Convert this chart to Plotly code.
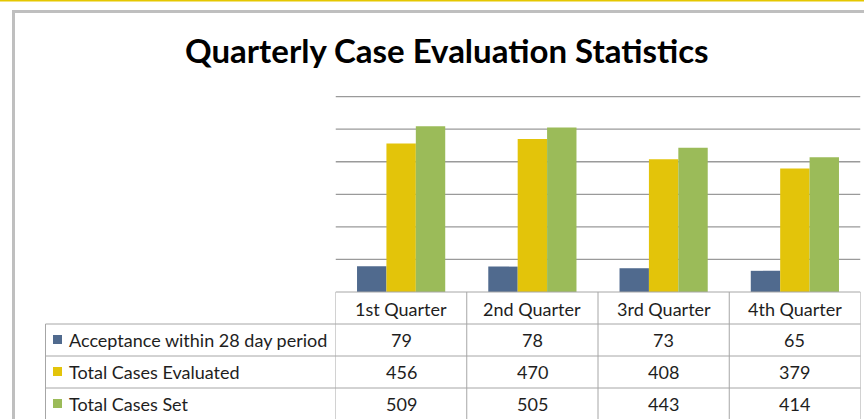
import plotly.graph_objects as go

quarters = ["1st Quarter", "2nd Quarter", "3rd Quarter", "4th Quarter"]
series_names = ["Acceptance within 28 day period", "Total Cases Evaluated", "Total Cases Set"]
acceptance = [79, 78, 73, 65]
evaluated = [456, 470, 408, 379]
cases_set = [509, 505, 443, 414]
colors = ["#506A8E", "#E3C40A", "#9BBB59"]
title_text = "Quarterly Case Evaluation Statistics"
grid_vals = [0, 100, 200, 300, 400, 500, 600]

W, H = 864, 419
FONT = "Lato"
TXT = "#1e1e1e"
LINE = "#a6a6a6"

def px(x):
    return x / W

def py(y):
    return 1 - y / H

series_values = [acceptance, evaluated, cases_set]

fig = go.Figure()
for name, vals, col in zip(series_names, series_values, colors):
    fig.add_trace(go.Bar(x=quarters, y=vals, name=name, marker=dict(color=col, line=dict(width=0)),
                         hoverinfo="x+y+name"))

shapes = []
annotations = []

# top yellow line and gray chart frame
shapes.append(dict(type="line", xref="paper", yref="paper", x0=0, x1=1, y0=py(0.7), y1=py(0.7),
                   line=dict(color="#E5C700", width=1.6)))
shapes.append(dict(type="line", xref="paper", yref="paper", x0=px(12), x1=1, y0=py(11.5), y1=py(11.5),
                   line=dict(color="#bfbfbf", width=3)))
shapes.append(dict(type="line", xref="paper", yref="paper", x0=px(13.5), x1=px(13.5), y0=py(10), y1=0,
                   line=dict(color="#bfbfbf", width=3)))

# gridlines (value axis)
for g in grid_vals[1:]:
    shapes.append(dict(type="line", xref="x", yref="y", x0=-0.5, x1=3.5, y0=g, y1=g, layer="below",
                       line=dict(color="#9a9a9a", width=1.3)))

# data table
row_h = 32
table_left = 45.5
shapes.append(dict(type="line", xref="x", yref="paper", x0=-0.5, x1=3.5, y0=py(292), y1=py(292),
                   line=dict(color=LINE, width=1)))
for yy in [324, 356, 388]:
    shapes.append(dict(type="line", xref="paper", yref="paper", x0=px(table_left), x1=px(860.5),
                       y0=py(yy), y1=py(yy), line=dict(color=LINE, width=1)))
for b in [-0.5, 0.5, 1.5, 2.5, 3.5]:
    shapes.append(dict(type="line", xref="x", yref="paper", x0=b, x1=b, y0=py(292), y1=0,
                       line=dict(color=LINE, width=1)))
shapes.append(dict(type="line", xref="paper", yref="paper", x0=px(table_left), x1=px(table_left),
                   y0=py(324), y1=0, line=dict(color=LINE, width=1)))

FS = 18
for q in quarters:
    annotations.append(dict(x=q, xref="x", y=py(309), yref="paper", text=q, showarrow=False,
                            font=dict(family=FONT, size=FS, color=TXT), xanchor="center", yanchor="middle"))

for i, (name, vals, col) in enumerate(zip(series_names, series_values, colors)):
    yc = 324 + row_h * i + 16
    shapes.append(dict(type="rect", xref="paper", yref="paper", x0=px(53), x1=px(62),
                       y0=py(yc - 5), y1=py(yc + 4), fillcolor=col, line=dict(width=0)))
    annotations.append(dict(x=px(67), xref="paper", y=py(yc), yref="paper", text=name, showarrow=False,
                            font=dict(family=FONT, size=FS, color=TXT), xanchor="left", yanchor="middle"))
    for q, v in zip(quarters, vals):
        annotations.append(dict(x=q, xref="x", y=py(yc), yref="paper", text=str(v), showarrow=False,
                                font=dict(family=FONT, size=FS, color=TXT), xanchor="center", yanchor="middle"))

annotations.append(dict(x=px(447), xref="paper", y=py(50), yref="paper", text="<b>" + title_text + "</b>",
                        showarrow=False, font=dict(family=FONT, size=33, color="#000000"),
                        xanchor="center", yanchor="middle"))

fig.update_layout(
    width=W, height=H,
    margin=dict(l=0, r=0, t=0, b=0),
    paper_bgcolor="white", plot_bgcolor="white",
    barmode="group", bargap=0.328, bargroupgap=0,
    showlegend=False,
    xaxis=dict(domain=[px(335.5), px(860.5)], showticklabels=False, showgrid=False, zeroline=False,
               showline=False, ticks="", range=[-0.5, 3.5], fixedrange=True),
    yaxis=dict(domain=[py(292), py(95)], range=[0, 605], showticklabels=False,
               showgrid=False, zeroline=False, showline=False, ticks="", fixedrange=True),
    shapes=shapes,
    annotations=annotations,
)

fig.write_html("out.html", config={"displayModeBar": False},
               post_script="document.body.style.margin='0';document.body.style.overflow='hidden';")
